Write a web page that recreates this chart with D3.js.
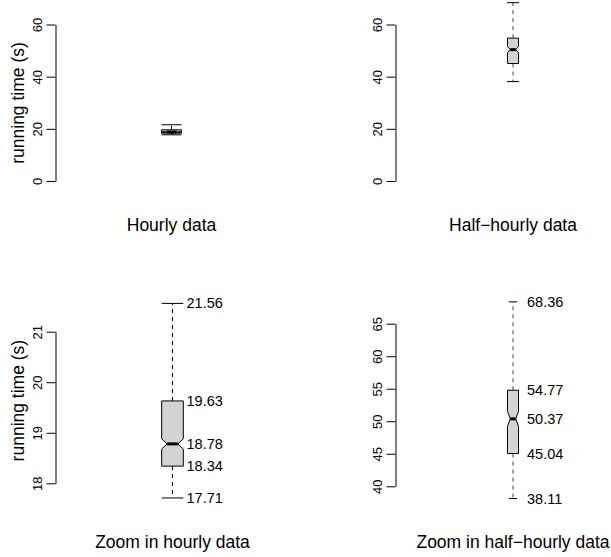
<!DOCTYPE html>
<html>
<head>
<meta charset="utf-8">
<script src="https://cdn.jsdelivr.net/npm/d3@7"></script>
<style>
  body { margin: 0; background: #fff; }
  svg { display: block; font-family: "Liberation Sans", Arial, sans-serif; }
</style>
</head>
<body>
<svg id="chart" width="611" height="557"></svg>
<script>
// five-number summaries: min, Q1, median, Q3, max
const hourlyStats = [17.71, 18.34, 18.78, 19.63, 21.56];
const halfHourlyStats = [38.11, 45.04, 50.37, 54.77, 68.36];

// notch limits (lower, upper) around the medians
const hourlyNotch = [18.68, 18.88];
const halfHourlyNotch = [49.22, 51.52];

// panel titles and tick values
const panelTitles = ["Hourly data", "Half\u2212hourly data", "Zoom in hourly data", "Zoom in half\u2212hourly data"];
const overviewTicks = [0, 20, 40, 60];
const zoomHourlyTicks = [18, 19, 20, 21];
const zoomHalfHourlyTicks = [40, 45, 50, 55, 60, 65];

const yLabel = "running time (s)";

// layout for each panel (positions only)
const panels = [
  { title: panelTitles[0], stats: hourlyStats, notch: hourlyNotch, ticks: overviewTicks,
    axisX: 55.5, cx: 171.5, boxW: 20, capW: 20, range: [181, 24.5], titleY: 231, ylab: true, ylabY: 103, values: false, whisk: "#000" },
  { title: panelTitles[1], stats: halfHourlyStats, notch: halfHourlyNotch, ticks: overviewTicks,
    axisX: 395.5, cx: 513, boxW: 11, capW: 12, range: [181, 24.5], titleY: 231, ylab: false, values: false, whisk: "#444" },
  { title: panelTitles[2], stats: hourlyStats, notch: hourlyNotch, ticks: zoomHourlyTicks,
    axisX: 55.5, cx: 172.5, boxW: 21.6, capW: 21.6, range: [483.3, 331.7], titleY: 548, ylab: true, ylabY: 400.6, values: true, whisk: "#000" },
  { title: panelTitles[3], stats: halfHourlyStats, notch: halfHourlyNotch, ticks: zoomHalfHourlyTicks,
    axisX: 395.5, cx: 513, boxW: 11, capW: 8.3, range: [486.3, 323.7], titleY: 548, ylab: false, values: true, whisk: "#444" }
];

const svg = d3.select("#chart");

panels.forEach(p => {
  const g = svg.append("g");

  const y = d3.scaleLinear()
    .domain(d3.extent(p.ticks))
    .range(p.range);

  // axis, R style: line only between first and last tick, rotated labels
  const axis = d3.axisLeft(y)
    .tickValues(p.ticks)
    .tickSizeOuter(0)
    .tickSizeInner(9)
    .tickFormat(d3.format("d"));

  const ax = g.append("g")
    .attr("transform", `translate(${p.axisX},0)`)
    .call(axis);
  ax.select(".domain").attr("stroke", "#000");
  ax.selectAll(".tick line").attr("stroke", "#000");
  ax.selectAll(".tick text")
    .attr("transform", "rotate(-90)")
    .attr("x", 0)
    .attr("y", -14)
    .attr("dy", 0)
    .attr("text-anchor", "middle")
    .attr("fill", "#000")
    .style("font-size", "13px")
    .style("font-family", "Liberation Sans, Arial, sans-serif");

  const [mn, q1, med, q3, mx] = p.stats;
  const x0 = p.cx - p.boxW / 2, x1 = p.cx + p.boxW / 2;
  const xm0 = p.cx - p.boxW / 4, xm1 = p.cx + p.boxW / 4;

  // whiskers
  [[q3, mx], [q1, mn]].forEach(([a, b]) => {
    g.append("line")
      .attr("x1", p.cx).attr("x2", p.cx)
      .attr("y1", y(a)).attr("y2", y(b))
      .attr("stroke", p.whisk)
      .attr("stroke-width", 1)
      .attr("stroke-dasharray", "4,4");
    g.append("line")
      .attr("x1", p.cx - p.capW / 2).attr("x2", p.cx + p.capW / 2)
      .attr("y1", y(b)).attr("y2", y(b))
      .attr("stroke", "#000")
      .attr("stroke-width", 1);
  });

  // notched box
  const pts = [
    [x0, y(q3)], [x1, y(q3)], [x1, y(p.notch[1])], [xm1, y(med)], [x1, y(p.notch[0])],
    [x1, y(q1)], [x0, y(q1)], [x0, y(p.notch[0])], [xm0, y(med)], [x0, y(p.notch[1])]
  ];
  g.append("path")
    .attr("d", d3.line()(pts) + "Z")
    .attr("fill", "#d3d3d3")
    .attr("stroke", "#000")
    .attr("stroke-width", 1);

  // median
  g.append("line")
    .attr("x1", xm0).attr("x2", xm1)
    .attr("y1", y(med)).attr("y2", y(med))
    .attr("stroke", "#000")
    .attr("stroke-width", 3);

  // value labels next to the box
  if (p.values) {
    g.selectAll("text.val")
      .data(p.stats)
      .enter()
      .append("text")
      .attr("class", "val")
      .attr("x", p.cx + 14)
      .attr("y", d => y(d))
      .attr("dy", "0.35em")
      .style("font-size", "14.5px")
      .text(d => d.toFixed(2));
  }

  // panel title under the plot
  g.append("text")
    .attr("x", p.cx)
    .attr("y", p.titleY)
    .attr("text-anchor", "middle")
    .style("font-size", "17.5px")
    .text(p.title);

  if (p.ylab) {
    g.append("text")
      .attr("transform", `translate(24,${p.ylabY}) rotate(-90)`)
      .attr("text-anchor", "middle")
      .style("font-size", "17.5px")
      .text(yLabel);
  }
});
</script>
</body>
</html>
